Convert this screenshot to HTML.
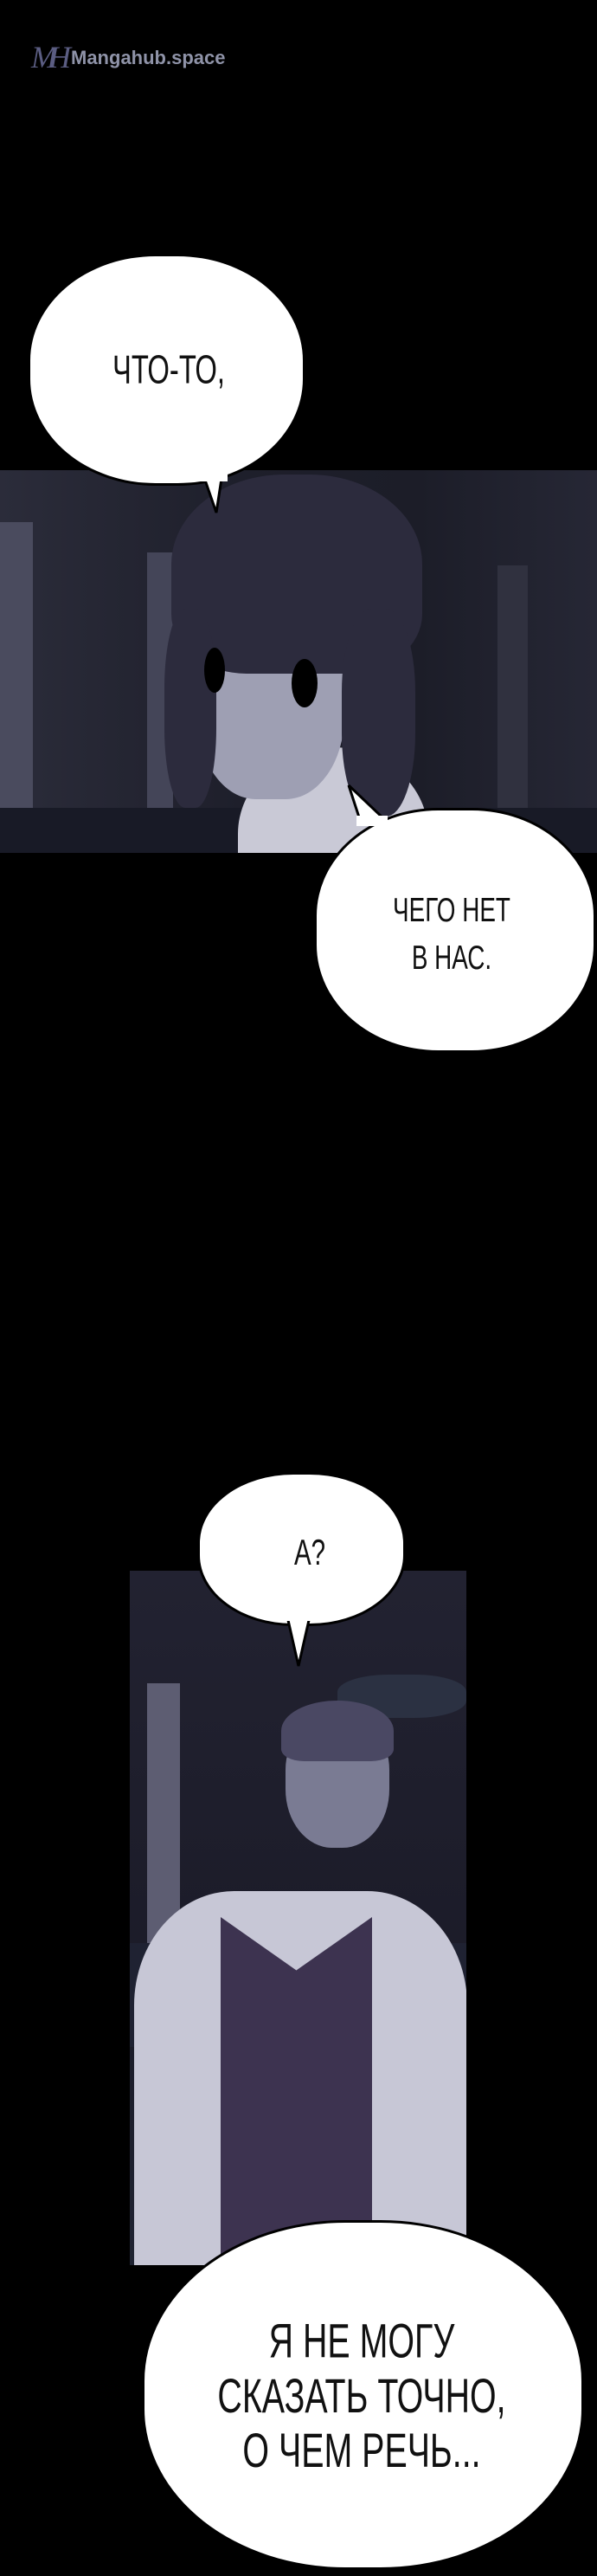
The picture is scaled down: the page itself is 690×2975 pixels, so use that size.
<!DOCTYPE html>
<html><head><meta charset="utf-8"><style>
body{margin:0;background:#000;}
#c{position:relative;width:690px;height:2975px;background:#000;overflow:hidden;font-family:"Liberation Sans",sans-serif;}
.a{position:absolute;}
.b{position:absolute;background:#fff;border:3px solid #000;border-radius:50%;}
.t{position:absolute;color:#111;text-align:center;transform:translate(-50%,-50%) scale(0.82,1.15);white-space:nowrap;}
</style></head><body><div id="c">
<div class="a" style="left:36px;top:45px;color:#5b5d82;font-family:'Liberation Serif',serif;font-size:36px;font-style:italic;">M<span style="margin-left:-10px">H</span></div>
<div class="a" style="left:82px;top:54px;color:#8f93a8;font-size:22px;font-weight:bold;">Mangahub.space</div>

<!-- panel 1 -->
<div class="a" style="left:0;top:543px;width:690px;height:442px;background:linear-gradient(90deg,#2b2c3a,#1e1f2b 40%,#1c1d28 70%,#262735);overflow:hidden;">
 <div class="a" style="left:0;top:60px;width:38px;height:380px;background:#4a4b5e;"></div>
 <div class="a" style="left:170px;top:95px;width:30px;height:340px;background:#444558;"></div>
 <div class="a" style="left:575px;top:110px;width:35px;height:330px;background:#30313f;"></div>
 <div class="a" style="left:0;top:390px;width:690px;height:52px;background:#181a26;"></div>
 <div class="a" style="left:275px;top:320px;width:220px;height:200px;background:#c9c9d6;border-radius:50% 50% 0 0;"></div>
 <div class="a" style="left:228px;top:140px;width:170px;height:240px;background:#9e9fb3;border-radius:40%;"></div>
 <div class="a" style="left:198px;top:5px;width:290px;height:230px;background:#2c2b3d;border-radius:45% 45% 30% 30%;"></div>
 <div class="a" style="left:190px;top:160px;width:60px;height:230px;background:#2c2b3d;border-radius:40%;"></div>
 <div class="a" style="left:395px;top:160px;width:85px;height:240px;background:#2c2b3d;border-radius:40%;"></div>
 <div class="a" style="left:236px;top:205px;width:24px;height:52px;background:#000;border-radius:50%;"></div>
 <div class="a" style="left:337px;top:218px;width:30px;height:56px;background:#000;border-radius:50%;"></div>
</div>

<div class="b" style="left:32px;top:293px;width:315px;height:262px;border-radius:46%;"></div>
<svg class="a" style="left:228px;top:540px" width="40" height="56"><polygon points="4,0 30,0 22,52" fill="#fff" stroke="#000" stroke-width="3"/><rect x="1" y="0" width="34" height="16" fill="#fff"/></svg>
<div class="t" style="left:195px;top:428px;font-size:40px;">ЧТО-ТО,</div>

<div class="b" style="left:363px;top:933px;width:320px;height:277px;border-radius:44%;"></div>
<svg class="a" style="left:400px;top:904px" width="50" height="50"><polygon points="3,3 17,46 42,40" fill="#fff" stroke="#000" stroke-width="3"/><rect x="12" y="38" width="36" height="12" fill="#fff"/></svg>
<div class="t" style="left:522px;top:1079px;font-size:34px;line-height:48px;">ЧЕГО НЕТ<br>В НАС.</div>

<!-- panel 2 -->
<div class="a" style="left:150px;top:1814px;width:389px;height:802px;background:linear-gradient(#222231,#1b1b28 60%,#202433);overflow:hidden;">
 <div class="a" style="left:20px;top:130px;width:38px;height:420px;background:#5d5d72;"></div>
 <div class="a" style="left:240px;top:120px;width:149px;height:50px;background:#2b3142;border-radius:40%;"></div>
 <div class="a" style="left:0;top:430px;width:389px;height:120px;background:#1f2232;"></div>
 <div class="a" style="left:180px;top:170px;width:120px;height:150px;background:#7a7b93;border-radius:40% 40% 45% 45%;"></div>
 <div class="a" style="left:175px;top:150px;width:130px;height:70px;background:#4a4863;border-radius:50% 50% 20% 20%;"></div>
 <div class="a" style="left:5px;top:370px;width:385px;height:440px;background:#c7c7d6;border-radius:30% 30% 0 0;"></div>
 <div class="a" style="left:105px;top:400px;width:175px;height:410px;background:#3d3350;clip-path:polygon(0 0,50% 15%,100% 0,100% 100%,0 100%);"></div>
</div>

<div class="b" style="left:228px;top:1700px;width:235px;height:172px;border-radius:46%;"></div>
<svg class="a" style="left:325px;top:1858px" width="40" height="70"><polygon points="5,0 35,0 20,66" fill="#fff" stroke="#000" stroke-width="3"/><rect x="2" y="0" width="36" height="14" fill="#fff"/></svg>
<div class="t" style="left:358px;top:1793px;font-size:36px;">А?</div>

<div class="b" style="left:164px;top:2564px;width:505px;height:398px;border-radius:46%;"></div>
<div class="t" style="left:418px;top:2768px;font-size:48px;line-height:55px;">Я НЕ МОГУ<br>СКАЗАТЬ ТОЧНО,<br>О ЧЕМ РЕЧЬ...</div>
</div></body></html>
